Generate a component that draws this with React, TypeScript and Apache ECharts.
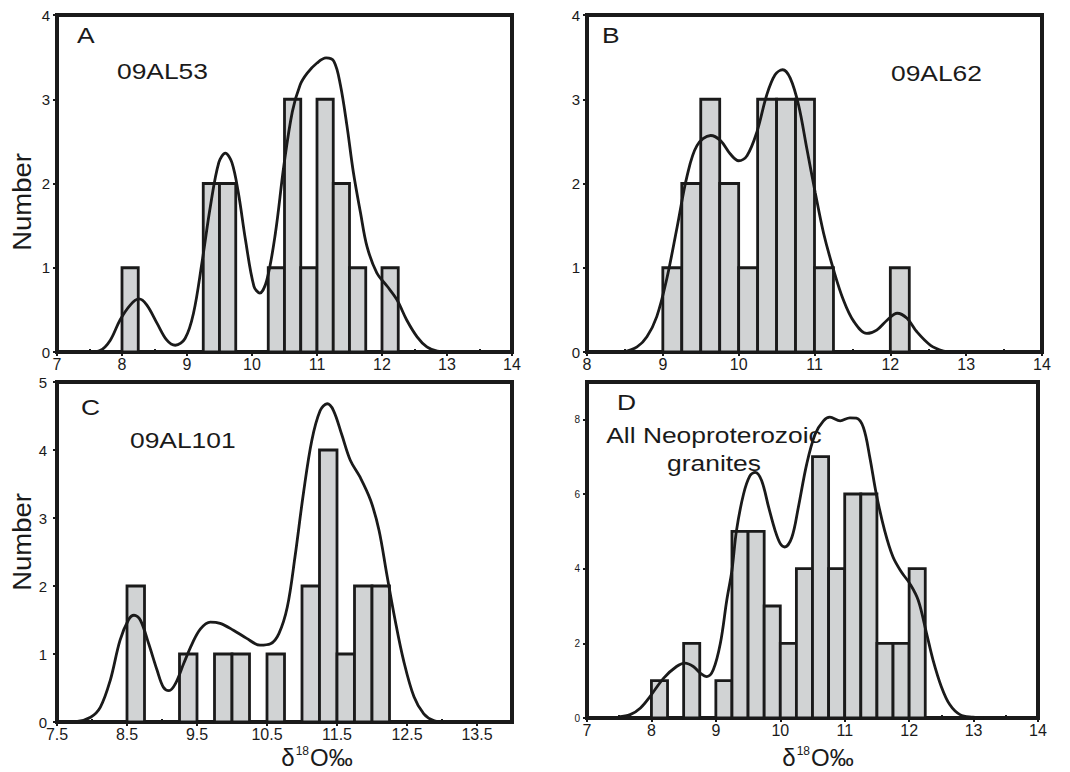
import React, { useEffect, useRef } from "react";
import * as echarts from "echarts";

// ---------- data ----------
const binWidth = 0.25;

// Panel A: 09AL53
const aBins = [8.0, 9.25, 9.5, 10.25, 10.5, 10.75, 11.0, 11.25, 11.5, 12.0];
const aCounts = [1, 2, 2, 1, 3, 1, 3, 2, 1, 1];
const aCurve = [
  [7.5, 0], [7.67, 0.02], [7.82, 0.14], [7.97, 0.38], [8.13, 0.56], [8.26, 0.63], [8.38, 0.56],
  [8.54, 0.34], [8.69, 0.14], [8.82, 0.08], [8.97, 0.16], [9.1, 0.46], [9.23, 1.06], [9.36, 1.73],
  [9.49, 2.25], [9.59, 2.36], [9.69, 2.25], [9.79, 1.89], [9.9, 1.33], [10.03, 0.78], [10.12, 0.7],
  [10.23, 0.86], [10.36, 1.41], [10.49, 2.21], [10.62, 2.85], [10.74, 3.17], [10.85, 3.31],
  [11.0, 3.43], [11.14, 3.49], [11.26, 3.45], [11.36, 3.17], [11.46, 2.69], [11.56, 2.13],
  [11.67, 1.65], [11.77, 1.25], [11.92, 0.94], [12.08, 0.78], [12.23, 0.62], [12.38, 0.38],
  [12.54, 0.18], [12.69, 0.06], [12.85, 0.01], [13.0, 0],
];

// Panel B: 09AL62
const bBins = [9.0, 9.25, 9.5, 9.75, 10.0, 10.25, 10.5, 10.75, 11.0, 12.0];
const bCounts = [1, 2, 3, 2, 1, 3, 3, 3, 1, 1];
const bCurve = [
  [8.48, 0], [8.66, 0.06], [8.79, 0.18], [8.92, 0.42], [9.05, 0.86], [9.19, 1.49], [9.32, 2.09],
  [9.45, 2.45], [9.63, 2.57], [9.76, 2.51], [9.89, 2.35], [10.0, 2.27], [10.11, 2.33], [10.24, 2.61],
  [10.37, 3.05], [10.48, 3.29], [10.58, 3.35], [10.68, 3.25], [10.79, 2.93], [10.9, 2.41],
  [11.01, 1.89], [11.12, 1.41], [11.25, 0.98], [11.38, 0.62], [11.52, 0.36], [11.69, 0.22],
  [11.82, 0.26], [11.96, 0.38], [12.09, 0.46], [12.22, 0.4], [12.35, 0.24], [12.53, 0.08],
  [12.7, 0.01], [12.8, 0],
];

// Panel C: 09AL101
const cBins = [8.5, 9.25, 9.75, 10.0, 10.5, 11.0, 11.25, 11.5, 11.75, 12.0];
const cCounts = [2, 1, 1, 1, 1, 2, 4, 1, 2, 2];
const cCurve = [
  [7.5, 0], [7.79, 0.01], [7.98, 0.07], [8.12, 0.22], [8.26, 0.61], [8.4, 1.2], [8.52, 1.5],
  [8.6, 1.57], [8.69, 1.5], [8.81, 1.15], [8.93, 0.76], [9.02, 0.51], [9.1, 0.46], [9.19, 0.56],
  [9.31, 0.86], [9.43, 1.15], [9.55, 1.37], [9.69, 1.47], [9.83, 1.45], [10.02, 1.35], [10.21, 1.23],
  [10.4, 1.13], [10.55, 1.15], [10.67, 1.3], [10.79, 1.69], [10.9, 2.43], [11.02, 3.36],
  [11.14, 4.14], [11.26, 4.58], [11.36, 4.68], [11.45, 4.58], [11.57, 4.22], [11.69, 3.85],
  [11.83, 3.6], [11.98, 3.26], [12.1, 2.82], [12.21, 2.18], [12.33, 1.5], [12.45, 0.91],
  [12.6, 0.37], [12.74, 0.12], [12.88, 0.02], [13.02, 0],
];

// Panel D: all Neoproterozoic granites
const dBins = [8.0, 8.5, 9.0, 9.25, 9.5, 9.75, 10.0, 10.25, 10.5, 10.75, 11.0, 11.25, 11.5, 11.75, 12.0];
const dCounts = [1, 2, 1, 5, 5, 3, 2, 4, 7, 4, 6, 6, 2, 2, 4];
const dCurve = [
  [7.49, 0.03], [7.67, 0.09], [7.83, 0.27], [7.98, 0.58], [8.19, 1.07], [8.39, 1.38], [8.52, 1.47],
  [8.65, 1.38], [8.76, 1.2], [8.86, 1.11], [8.96, 1.29], [9.07, 2.0], [9.17, 3.16], [9.25, 3.96],
  [9.32, 5.02], [9.43, 6.0], [9.53, 6.49], [9.61, 6.58], [9.71, 6.36], [9.82, 5.64], [9.92, 5.02],
  [10.0, 4.67], [10.07, 4.58], [10.18, 4.84], [10.28, 5.64], [10.41, 6.8], [10.54, 7.6],
  [10.67, 7.96], [10.77, 8.06], [10.93, 7.96], [11.08, 8.04], [11.18, 8.03], [11.29, 7.78],
  [11.39, 6.98], [11.49, 6.0], [11.62, 5.02], [11.75, 4.31], [11.88, 3.91], [12.01, 3.6],
  [12.14, 3.16], [12.27, 2.27], [12.37, 1.56], [12.5, 0.84], [12.63, 0.36], [12.79, 0.09],
  [12.99, 0.02], [13.15, 0],
];

// tick labels
const xTicksA = [7, 8, 9, 10, 11, 12, 13, 14];
const xTicksB = [8, 9, 10, 11, 12, 13, 14];
const xTicksC = [7.5, 8.5, 9.5, 10.5, 11.5, 12.5, 13.5];
const xTicksD = [7, 8, 9, 10, 11, 12, 13, 14];
const xMinorA = [7.5, 8.5, 9.5, 10.5, 11.5, 12.5, 13.5];
const xMinorB = [8.5, 9.5, 10.5, 11.5, 12.5, 13.5];
const xMinorC = [8, 9, 10, 11, 12, 13];
const xMinorD = [7.5, 8.5, 9.5, 10.5, 11.5, 12.5, 13.5];
const yTicksA = [0, 1, 2, 3, 4];
const yTicksB = [0, 1, 2, 3, 4];
const yTicksC = [0, 1, 2, 3, 4, 5];
const yTicksD = [0, 2, 4, 6, 8];

const panelLetters = ["A", "B", "C", "D"];
const sampleNames = ["09AL53", "09AL62", "09AL101", "All Neoproterozoic", "granites"];
const yName = "Number";

// ---------- layout/style ----------
const FONT = "'Liberation Sans', Arial, sans-serif";
const INK = "#1a1a1a";
const BAR_FILL = "#d1d3d4";

const grids = [
  { left: 57, top: 15, width: 455, height: 337 },
  { left: 587, top: 15, width: 455, height: 337 },
  { left: 57, top: 382, width: 455, height: 340 },
  { left: 587, top: 382, width: 451, height: 336 },
];

function mainX(gi: number, min: number, max: number, ticks: number[]) {
  return {
    type: "value",
    gridIndex: gi,
    position: "bottom",
    min,
    max,
    axisLine: { show: true, onZero: false, lineStyle: { color: INK, width: 4 } },
    axisTick: { show: true, customValues: ticks, length: 4, lineStyle: { color: INK, width: 2 } },
    axisLabel: {
      show: true,
      customValues: ticks,
      color: INK,
      fontSize: 16,
      fontFamily: FONT,
      margin: 4,
      formatter: (v: number) => String(v),
    },
    splitLine: { show: false },
  };
}
function minorX(gi: number, min: number, max: number, ticks: number[]) {
  return {
    type: "value",
    gridIndex: gi,
    position: "bottom",
    min,
    max,
    axisLine: { show: false },
    axisTick: { show: true, inside: true, customValues: ticks, length: 3, lineStyle: { color: INK, width: 2 } },
    axisLabel: { show: false },
    splitLine: { show: false },
  };
}
function mainY(gi: number, max: number, ticks: number[], fs: number, margin = 7) {
  return {
    type: "value",
    gridIndex: gi,
    min: 0,
    max,
    axisLine: { show: true, onZero: false, lineStyle: { color: INK, width: 4 } },
    axisTick: { show: true, customValues: ticks, length: 4, lineStyle: { color: INK, width: 2 } },
    axisLabel: {
      show: true,
      customValues: ticks,
      color: INK,
      fontSize: fs,
      fontFamily: FONT,
      margin,
    },
    splitLine: { show: false },
  };
}

function barSeries(xi: number, yi: number, bins: number[], counts: number[]) {
  return {
    type: "custom",
    xAxisIndex: xi,
    yAxisIndex: yi,
    z: 2,
    data: bins.map((b, i) => [b, counts[i]]),
    encode: { x: 0, y: 1 },
    renderItem: (params: any, api: any) => {
      const x0 = api.value(0);
      const c = api.value(1);
      const p0 = api.coord([x0, c]);
      const p1 = api.coord([x0 + binWidth, 0]);
      return {
        type: "rect",
        shape: { x: p0[0], y: p0[1], width: p1[0] - p0[0], height: p1[1] - p0[1] },
        style: { fill: BAR_FILL, stroke: INK, lineWidth: 2.8 },
      };
    },
  };
}
function curveSeries(xi: number, yi: number, pts: number[][]) {
  return {
    type: "line",
    xAxisIndex: xi,
    yAxisIndex: yi,
    z: 3,
    data: pts,
    smooth: 0.35,
    showSymbol: false,
    symbol: "none",
    lineStyle: { color: INK, width: 2.8 },
  };
}

function txt(x: number, y: number, text: string, fs: number, align = "left", sx = 1.2) {
  return {
    type: "text",
    x,
    y,
    scaleX: sx,
    z: 10,
    style: { text, fontSize: fs, fontFamily: FONT, fill: INK, align, verticalAlign: "top" },
  };
}

export default function App() {
  const ref = useRef<HTMLDivElement>(null);
  useEffect(() => {
    const chart = echarts.init(ref.current as HTMLDivElement, null, { renderer: "svg" });
    const xName = (cx: number) => ({
      type: "text",
      x: cx,
      y: 745,
      z: 10,
      style: {
        text: "{a|δ}{s|18}{a|O‰}",
        align: "center",
        verticalAlign: "top",
        fill: INK,
        fontFamily: FONT,
        rich: {
          a: { fontSize: 24, fontFamily: FONT, fill: INK, verticalAlign: "bottom", lineHeight: 24 },
          s: { fontSize: 12, fontFamily: FONT, fill: INK, verticalAlign: "top", lineHeight: 24, padding: [0, 1, 0, 1] },
        },
      },
    });
    const option: any = {
      animation: false,
      backgroundColor: "#ffffff",
      grid: grids.map((g) => ({ ...g, show: true, borderWidth: 4, borderColor: INK, backgroundColor: "transparent" })),
      xAxis: [
        mainX(0, 7, 14, xTicksA),
        mainX(1, 8, 14, xTicksB),
        mainX(2, 7.5, 14, xTicksC),
        mainX(3, 7, 14, xTicksD),
        minorX(0, 7, 14, xMinorA),
        minorX(1, 8, 14, xMinorB),
        minorX(2, 7.5, 14, xMinorC),
        minorX(3, 7, 14, xMinorD),
      ],
      yAxis: [
        mainY(0, 4, yTicksA, 15),
        mainY(1, 4, yTicksB, 15),
        mainY(2, 5, yTicksC, 15, 10),
        mainY(3, 9, yTicksD, 10),
      ],
      series: [
        barSeries(0, 0, aBins, aCounts),
        curveSeries(0, 0, aCurve),
        barSeries(1, 1, bBins, bCounts),
        curveSeries(1, 1, bCurve),
        barSeries(2, 2, cBins, cCounts),
        curveSeries(2, 2, cCurve),
        barSeries(3, 3, dBins, dCounts),
        curveSeries(3, 3, dCurve),
      ],
      graphic: [
        txt(77, 24, panelLetters[0], 22),
        txt(117, 60, sampleNames[0], 22),
        txt(602, 24, panelLetters[1], 22),
        txt(891, 62, sampleNames[1], 22),
        txt(81, 396, panelLetters[2], 22),
        txt(130, 429, sampleNames[2], 22),
        txt(617, 391, panelLetters[3], 22),
        txt(714, 424, sampleNames[3], 22, "center"),
        txt(714, 452, sampleNames[4], 22, "center"),
        {
          type: "text", x: 22, y: 202, rotation: Math.PI / 2, scaleX: 1.1, z: 10,
          style: { text: yName, fontSize: 25, fontFamily: FONT, fill: INK, align: "center", verticalAlign: "middle" },
        },
        {
          type: "text", x: 22, y: 542, rotation: Math.PI / 2, scaleX: 1.1, z: 10,
          style: { text: yName, fontSize: 25, fontFamily: FONT, fill: INK, align: "center", verticalAlign: "middle" },
        },
        xName(317),
        xName(818),
      ],
    };
    chart.setOption(option);
    return () => chart.dispose();
  }, []);
  return <div ref={ref} style={{ position: "absolute", left: 0, top: 0, width: 1070, height: 772, background: "#fff" }} />;
}
